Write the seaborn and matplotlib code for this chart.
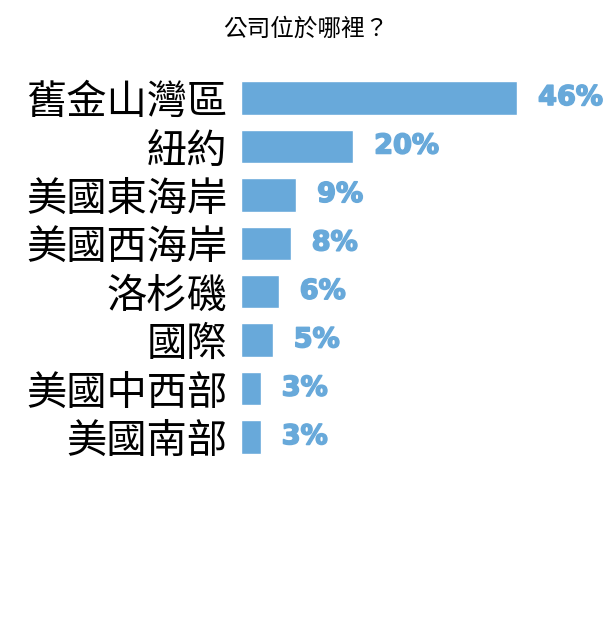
import matplotlib
matplotlib.use('Agg')
import matplotlib.pyplot as plt
import matplotlib.patheffects as pe
import seaborn as sns
import pandas as pd

# data
regions = ['舊金山灣區', '紐約', '美國東海岸', '美國西海岸', '洛杉磯', '國際', '美國中西部', '美國南部']
bar_lengths = [46.0, 18.7, 9.2, 8.3, 6.3, 5.3, 3.3, 3.3]
pct_labels = ['46%', '20%', '9%', '8%', '6%', '5%', '3%', '3%']

title = '公司位於哪裡？'
bar_color = '#68a9da'

sns.set_theme(style='white')
plt.rcParams['font.family'] = ['Noto Sans CJK TC', 'DejaVu Sans']

df = pd.DataFrame({'region': regions, 'share': bar_lengths})

fig = plt.figure(figsize=(6.15, 6.2), dpi=100)
ax = fig.add_axes([0.392, 0.256, 0.537, 0.625])

sns.barplot(data=df, x='share', y='region', color=bar_color, saturation=1,
            width=0.69, ax=ax)

ax.set_xlim(0, 55)
ax.set_xlabel('')
ax.set_ylabel('')
ax.set_xticks([])
ax.tick_params(axis='y', length=0, pad=10, labelsize=29, labelcolor='black')
sns.despine(ax=ax, left=True, bottom=True)

for i, (v, lab) in enumerate(zip(bar_lengths, pct_labels)):
    ax.annotate(lab, xy=(v, i), xytext=(15, 0), textcoords='offset points',
                ha='left', va='center', fontsize=19.5, fontweight='bold',
                family='DejaVu Sans', color=bar_color,
                path_effects=[pe.withStroke(linewidth=1.2, foreground=bar_color)],
                annotation_clip=False)

fig.text(0.497, 0.953, title, ha='center', va='center', fontsize=17, color='black')

fig.savefig('out.png', dpi=100, facecolor='white')
